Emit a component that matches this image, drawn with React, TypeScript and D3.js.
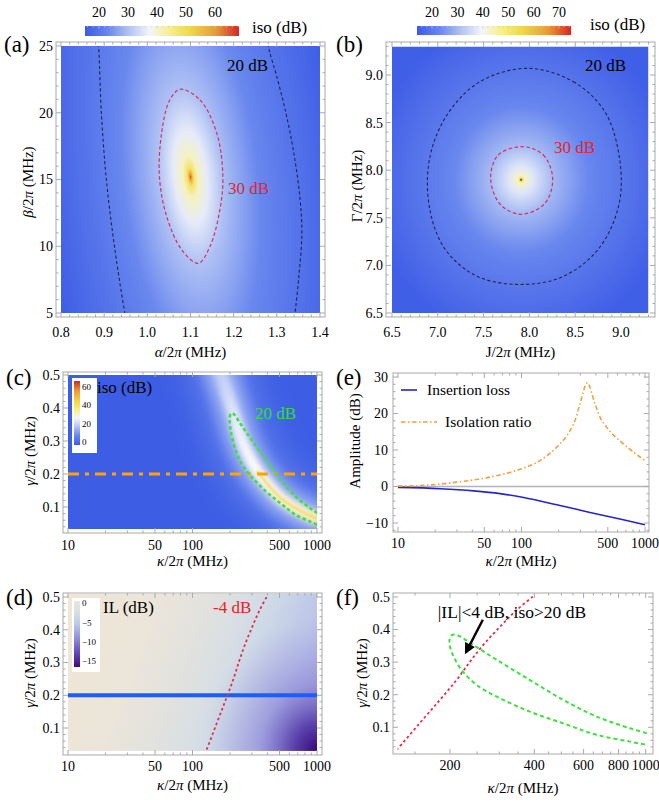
import React from 'react';
import * as d3 from 'd3';

// ---------- (a) isolation vs alpha / beta ----------
const alphaTicks = [0.8, 0.9, 1.0, 1.1, 1.2, 1.3, 1.4];
const betaTicks = [5, 10, 15, 20, 25];
const peakA = [1.1, 15.2]; // [alpha, beta]
const iso30A = [
  [1.076, 21.76], [1.122, 20.96], [1.161, 18.46], [1.175, 15.21], [1.168, 12.72], [1.145, 9.97],
  [1.118, 8.72], [1.08, 9.72], [1.045, 12.21], [1.028, 15.21], [1.033, 18.46], [1.052, 20.96],
];
const iso20ALeft = [[0.886, 25.6], [0.888, 24.45], [0.894, 19.7], [0.906, 14.7], [0.925, 9.72], [0.948, 5.0], [0.951, 4.6]];
const iso20ARight = [[1.277, 25.6], [1.283, 24.6], [1.3, 22.7], [1.323, 19.7], [1.342, 16.46], [1.354, 13.46], [1.358, 10.97], [1.351, 7.72], [1.342, 5.0], [1.34, 4.6]];
const isoBarTicksA = [20, 30, 40, 50, 60];
const isoRangeA = [15.2, 68.3];

// ---------- (b) isolation vs J / Gamma ----------
const jTicks = [6.5, 7.0, 7.5, 8.0, 8.5, 9.0];
const peakB = [7.91, 7.9];
const iso30B = [[7.927, 8.247], [8.152, 8.16], [8.254, 7.915], [8.17, 7.652], [7.905, 7.537], [7.679, 7.645], [7.577, 7.915], [7.66, 8.16]];
const iso20B = [
  [7.98, 9.07], [8.48, 8.93], [8.82, 8.62], [8.98, 8.15], [8.98, 7.65], [8.76, 7.18], [8.36, 6.88],
  [7.88, 6.8], [7.42, 6.89], [7.08, 7.17], [6.91, 7.6], [6.91, 8.12], [7.1, 8.58], [7.46, 8.93],
];
const isoBarTicksB = [20, 30, 40, 50, 60, 70];
const isoRangeB = [14.1, 74.7];

// ---------- (c) (d) (f) kappa / gamma plane ----------
const kappaMajor = [10, 50, 100, 500, 1000];
const kappaMinor = [20, 30, 40, 60, 70, 80, 90, 200, 300, 400, 600, 700, 800, 900];
const gammaTicks = [0.1, 0.2, 0.3, 0.4, 0.5];
const gammaWork = 0.2;
// ridge of maximal isolation, [kappa, gamma]
const ridgeC = [[150, 0.56], [170, 0.5], [207, 0.4], [235, 0.33], [270, 0.27], [330, 0.21], [420, 0.16], [520, 0.125], [650, 0.1], [930, 0.07], [1150, 0.06]];
// 20 dB isolation contour, [kappa, gamma]
const iso20Loop = [
  [1008, 0.082], [879, 0.097], [668, 0.133], [508, 0.184], [386, 0.245], [294, 0.307], [242, 0.353], [212, 0.383],
  [203, 0.383], [199, 0.365], [203, 0.33], [220, 0.276], [249, 0.23], [294, 0.194], [386, 0.148], [508, 0.112],
  [668, 0.077], [879, 0.056], [1008, 0.046],
];
// -4 dB insertion-loss contour, [kappa, gamma]
const il4Line = [[125, 0.02], [129, 0.031], [156, 0.113], [184, 0.184], [211, 0.245], [236, 0.302], [263, 0.353], [302, 0.409], [346, 0.46], [402, 0.506]];
const isoBarTicksC = [0, 20, 40, 60];
const ilBarTicksD = [0, -5, -10, -15];

// ---------- (e) cut at gamma = 0.2 ----------
const ampTicks = [-10, 0, 10, 20, 30];
const ilKappa = [10, 22, 41, 67, 104, 193, 359, 667, 1000];
const ilDb = [-0.25, -0.6, -1.2, -1.95, -3.0, -5.0, -7.1, -9.1, -10.5];
const isoKappa = [10, 16, 30, 56, 91, 141, 193, 247, 271, 298, 341, 393, 432, 490, 667, 1000];
const isoDb = [0.1, 0.3, 1.2, 2.6, 4.4, 7.1, 10.8, 15.3, 18.1, 22.7, 28.4, 22.7, 19.0, 16.2, 11.7, 7.1];

// ---------- (f) ----------
const kappaFMajor = [200, 400, 600, 800, 1000];
const kappaFMinor = [150, 250, 300, 350, 450, 500, 550, 650, 700, 750, 850, 900, 950];

const FONT = 'Liberation Serif';
const FRAME = '#a9a9a9';

const isoStops: [number, string][] = [
  [0, '#3b5be6'], [0.15, '#6a88ee'], [0.3, '#b9c9f5'], [0.42, '#f4f5fa'],
  [0.55, '#f6ef8a'], [0.68, '#f2d84a'], [0.85, '#e89a3c'], [1, '#d2281f'],
];
const isoColor = d3.scaleLinear<string>().domain(isoStops.map(s => s[0])).range(isoStops.map(s => s[1])).clamp(true);
const ilStops: [number, string][] = [
  [0, '#3c0c7a'], [0.25, '#6a52c0'], [0.42, '#8f8ad8'], [0.65, '#bccae5'], [0.82, '#d6dee6'], [1, '#ece6d8'],
];

// scales
const xA = d3.scaleLinear().domain([0.8, 1.4]).range([61, 320]);
const yA = d3.scaleLinear().domain([5, 25]).range([313, 46]);
const xB = d3.scaleLinear().domain([6.5, 9.0]).range([392, 621]);
const yB = d3.scaleLinear().domain([6.5, 9.0]).range([313, 75]);
const xC = d3.scaleLog().domain([10, 1000]).range([68, 317]);
const yC = d3.scaleLinear().domain([0.1, 0.5]).range([507, 375]);
const yD = d3.scaleLinear().domain([0.1, 0.5]).range([728, 597]);
const xE = d3.scaleLog().domain([10, 1000]).range([398, 645]);
const yE = d3.scaleLinear().domain([-10, 30]).range([523, 377]);
const xF = d3.scaleLog().domain([200, 1000]).range([450, 645.7]);
const yF = d3.scaleLinear().domain([0.1, 0.5]).range([727.3, 597]);

type Box = { x0: number; x1: number; y0: number; y1: number };

function Frame(p: {
  box: Box; x: any; y: any; xMajor: number[]; xMinor: number[]; yMajor: number[]; yMinor: number[];
  xFmt: (v: number) => string; yFmt: (v: number) => string; xLabY: number; yLabOff?: number;
}) {
  const { box, x, y } = p;
  const els: any[] = [];
  const tick = (k: string, v: number, len: number, axis: 'x' | 'y') => {
    if (axis === 'x') {
      const px = x(v);
      els.push(<line key={k + 'b'} x1={px} x2={px} y1={box.y1} y2={box.y1 - len} stroke={FRAME} />);
      els.push(<line key={k + 't'} x1={px} x2={px} y1={box.y0} y2={box.y0 + len} stroke={FRAME} />);
    } else {
      const py = y(v);
      els.push(<line key={k + 'l'} x1={box.x0} x2={box.x0 + len} y1={py} y2={py} stroke={FRAME} />);
      els.push(<line key={k + 'r'} x1={box.x1} x2={box.x1 - len} y1={py} y2={py} stroke={FRAME} />);
    }
  };
  p.xMajor.forEach(v => tick('xM' + v, v, 5, 'x'));
  p.xMinor.forEach(v => tick('xm' + v, v, 2.5, 'x'));
  p.yMajor.forEach(v => tick('yM' + v, v, 5, 'y'));
  p.yMinor.forEach(v => tick('ym' + v, v, 2.5, 'y'));
  return (
    <g>
      <rect x={box.x0} y={box.y0} width={box.x1 - box.x0} height={box.y1 - box.y0} fill="none" stroke={FRAME} strokeWidth={1} />
      {els}
      {p.xMajor.map(v => (
        <text key={'xl' + v} x={x(v)} y={p.xLabY} textAnchor="middle" fontSize={14}>{p.xFmt(v)}</text>
      ))}
      {p.yMajor.map(v => (
        <text key={'yl' + v} x={box.x0 - (p.yLabOff ?? 3)} y={y(v)} dy="0.35em" textAnchor="end" fontSize={14}>{p.yFmt(v)}</text>
      ))}
    </g>
  );
}

function YTitle({ x, y, children }: { x: number; y: number; children: any }) {
  return (
    <text transform={`translate(${x},${y}) rotate(-90)`} dy="0.35em" textAnchor="middle" fontSize={15}>{children}</text>
  );
}

const it = (s: string) => <tspan fontStyle="italic">{s}</tspan>;

function TopBar({ id, x0, x1, y0, y1, range, ticks, labY }: any) {
  const s = d3.scaleLinear().domain(range).range([x0, x1]);
  const minor = d3.range(Math.ceil(range[0] / 2) * 2, range[1], 2);
  return (
    <g>
      <defs>
        <linearGradient id={id} x1="0" y1="0" x2="1" y2="0">
          {isoStops.map(([o, c]) => <stop key={o} offset={o} stopColor={c} />)}
        </linearGradient>
      </defs>
      <rect x={x0} y={y0} width={x1 - x0} height={y1 - y0} fill={`url(#${id})`} />
      {minor.map(v => <line key={v} x1={s(v)} x2={s(v)} y1={y0} y2={y0 + (v % 10 === 0 ? 2.5 : 1.3)} stroke="#c8c8c8" strokeWidth={0.8} />)}
      {ticks.map((v: number) => <text key={v} x={s(v)} y={labY} textAnchor="middle" fontSize={14}>{v}</text>)}
    </g>
  );
}

export default function App() {
  const lineOf = (x: any, y: any, curve: any = d3.curveCatmullRom) =>
    d3.line<number[]>().x(d => x(d[0])).y(d => y(d[1])).curve(curve);

  const boxA: Box = { x0: 56, x1: 325, y0: 42, y1: 317 };
  const boxB: Box = { x0: 386, x1: 655, y0: 42, y1: 317 };
  const boxC: Box = { x0: 63, x1: 322, y0: 372, y1: 533 };
  const boxD: Box = { x0: 63, x1: 322, y0: 593, y1: 755 };
  const boxE: Box = { x0: 393, x1: 649, y0: 373, y1: 532 };
  const boxF: Box = { x0: 393, x1: 653, y0: 593, y1: 754 };

  // field gradients: [radius fraction, iso dB]
  const profileA = [[0, 66], [0.008, 58], [0.022, 48], [0.05, 41], [0.11, 36], [0.21, 30], [0.45, 23], [0.66, 20], [1, 15.5]];
  const profileB = [[0, 74], [0.01, 52], [0.025, 43], [0.08, 37], [0.21, 30], [0.45, 23], [0.65, 20], [1, 15]];
  const tA = (v: number) => (v - isoRangeA[0]) / (isoRangeA[1] - isoRangeA[0]);
  const tB = (v: number) => (v - isoRangeB[0]) / (isoRangeB[1] - isoRangeB[0]);
  const pA = [xA(peakA[0]), yA(peakA[1])];
  const pB = [xB(peakB[0]), yB(peakB[1])];

  const minorRange = (a: number, b: number, st: number, major: number[]) =>
    d3.range(a, b + st / 2, st).map(v => +v.toFixed(3)).filter(v => !major.some(m => Math.abs(m - v) < 1e-6));

  const gammaMinor = minorRange(0.04, 0.5, 0.02, gammaTicks);
  const fmt1 = d3.format('.1f');
  const fmtI = (v: number) => String(v);

  const ridgeLine = lineOf(xC, yC)(ridgeC) as string;
  const ridgeCoreLine = lineOf(xC, yC)(ridgeC.filter(d => d[0] >= 330)) as string;

  return (
    <div style={{ position: 'absolute', left: 0, top: 0, fontFamily: FONT }}>
      <svg width={659} height={802} style={{ fontFamily: FONT }}>
        <rect width={659} height={802} fill="#ffffff" />
        <defs>
          <clipPath id="clipA"><rect x={xA(0.8)} y={yA(25)} width={xA(1.4) - xA(0.8)} height={yA(5) - yA(25)} /></clipPath>
          <clipPath id="clipB"><rect x={xB(6.5)} y={yB(9.3)} width={xB(9.3) - xB(6.5)} height={yB(6.5) - yB(9.3)} /></clipPath>
          <clipPath id="clipC"><rect x={xC(10)} y={yC(0.5)} width={xC(1000) - xC(10)} height={yC(0.033) - yC(0.5)} /></clipPath>
          <clipPath id="clipD"><rect x={xC(10)} y={yD(0.51)} width={xC(1000) - xC(10)} height={yD(0.03) - yD(0.51)} /></clipPath>
          <clipPath id="clipE"><rect x={boxE.x0} y={boxE.y0} width={boxE.x1 - boxE.x0} height={boxE.y1 - boxE.y0} /></clipPath>
          <clipPath id="clipF"><rect x={xF(130)} y={yF(0.51)} width={xF(1030) - xF(130)} height={yF(0.03) - yF(0.51)} /></clipPath>
          <radialGradient id="fieldA" gradientUnits="userSpaceOnUse" cx={0} cy={0} r={150}
            gradientTransform={`translate(${pA[0]} ${pA[1]}) rotate(-6) scale(1 2.8)`}>
            {profileA.map(([o, v]) => <stop key={o} offset={o} stopColor={isoColor(tA(v))} />)}
          </radialGradient>
          <radialGradient id="fieldB" gradientUnits="userSpaceOnUse" cx={0} cy={0} r={150}
            gradientTransform={`translate(${pB[0]} ${pB[1]}) scale(1 1.08)`}>
            {profileB.map(([o, v]) => <stop key={o} offset={o} stopColor={isoColor(tB(v))} />)}
          </radialGradient>
          <linearGradient id="ridgeGrad" gradientUnits="userSpaceOnUse" x1={xC(170)} y1={yC(0.5)} x2={xC(1000)} y2={yC(0.065)}>
            <stop offset="0" stopColor="#c2cff6" />
            <stop offset="0.3" stopColor="#eaeffc" />
            <stop offset="0.55" stopColor="#fbfbf6" />
            <stop offset="0.8" stopColor="#fcf7dc" />
            <stop offset="1" stopColor="#faf0c0" />
          </linearGradient>
          <filter id="blur12" filterUnits="userSpaceOnUse" x={0} y={0} width={659} height={802}><feGaussianBlur stdDeviation={12} /></filter>
          <filter id="blur7" filterUnits="userSpaceOnUse" x={0} y={0} width={659} height={802}><feGaussianBlur stdDeviation={7} /></filter>
          <filter id="blur3" filterUnits="userSpaceOnUse" x={0} y={0} width={659} height={802}><feGaussianBlur stdDeviation={3} /></filter>
          <filter id="blur1" filterUnits="userSpaceOnUse" x={0} y={0} width={659} height={802}><feGaussianBlur stdDeviation={0.8} /></filter>
          <linearGradient id="ilLin" gradientUnits="userSpaceOnUse" x1={xC(10)} y1={yD(0.5)} x2={xC(10) + 0.935 * 288} y2={yD(0.5) + 0.359 * 288}>
            <stop offset="0" stopColor="#efe6d5" />
            <stop offset="0.3" stopColor="#ebe5da" />
            <stop offset="0.5" stopColor="#dfe1e0" />
            <stop offset="0.65" stopColor="#d0dbe7" />
            <stop offset="0.82" stopColor="#bcc6e8" />
            <stop offset="1" stopColor="#a6a6e2" />
          </linearGradient>
          <radialGradient id="ilRad" gradientUnits="userSpaceOnUse" cx={0} cy={0} r={115}
            gradientTransform={`translate(${xC(1000)} ${yD(0.03)}) scale(1 1.15)`}>
            <stop offset="0" stopColor="#360a76" stopOpacity={1} />
            <stop offset="0.2" stopColor="#5236a6" stopOpacity={0.92} />
            <stop offset="0.5" stopColor="#7e74d2" stopOpacity={0.5} />
            <stop offset="1" stopColor="#a09ce0" stopOpacity={0} />
          </radialGradient>
          <linearGradient id="barC" x1="0" y1="1" x2="0" y2="0">
            {isoStops.map(([o, c]) => <stop key={o} offset={o} stopColor={c} />)}
          </linearGradient>
          <linearGradient id="barD" x1="0" y1="1" x2="0" y2="0">
            {ilStops.map(([o, c]) => <stop key={o} offset={o} stopColor={c} />)}
          </linearGradient>
          <marker id="arrowF" viewBox="0 0 10 10" refX={8} refY={5} markerWidth={5.2} markerHeight={4.6} orient="auto">
            <path d="M0,0 L10,5 L0,10 z" fill="#000" />
          </marker>
        </defs>

        {/* ================= (a) ================= */}
        <TopBar id="barA" x0={85} x1={239} y0={26} y1={36} range={isoRangeA} ticks={isoBarTicksA} labY={17} />
        <text x={252} y={33} fontSize={17}>iso (dB)</text>
        <text x={4} y={52} fontSize={23}>(a)</text>
        <g clipPath="url(#clipA)">
          <rect x={xA(0.8)} y={yA(25)} width={xA(1.4) - xA(0.8)} height={yA(5) - yA(25)} fill="url(#fieldA)" />
          <path d={lineOf(xA, yA)(iso20ALeft) as string} fill="none" stroke="#1d2453" strokeWidth={1.1} strokeDasharray="3.2 2.4" />
          <path d={lineOf(xA, yA)(iso20ARight) as string} fill="none" stroke="#1d2453" strokeWidth={1.1} strokeDasharray="3.2 2.4" />
          <path d={lineOf(xA, yA, d3.curveCatmullRomClosed)(iso30A) as string} fill="none" stroke="#d4305c" strokeWidth={1.2} strokeDasharray="3.6 2.4" />
        </g>
        <text x={227} y={71} fontSize={17}>20 dB</text>
        <text x={228} y={194} fontSize={17} fill="#e5222a">30 dB</text>
        <Frame box={boxA} x={xA} y={yA} xMajor={alphaTicks} xMinor={minorRange(0.8, 1.4, 0.02, alphaTicks)}
          yMajor={betaTicks} yMinor={minorRange(5, 25, 1, betaTicks)} xFmt={fmt1} yFmt={fmtI} xLabY={337} />
        <text x={(boxA.x0 + boxA.x1) / 2} y={357} textAnchor="middle" fontSize={15}>{it('α')}/2{it('π')} (MHz)</text>
        <YTitle x={28} y={182}>{it('β')}/2{it('π')} (MHz)</YTitle>

        {/* ================= (b) ================= */}
        <TopBar id="barB" x0={417} x1={571} y0={26} y1={35} range={isoRangeB} ticks={isoBarTicksB} labY={17} />
        <text x={590} y={30} fontSize={17}>iso (dB)</text>
        <text x={336} y={52} fontSize={23}>(b)</text>
        <g clipPath="url(#clipB)">
          <rect x={xB(6.5)} y={yB(9.3)} width={xB(9.3) - xB(6.5)} height={yB(6.5) - yB(9.3)} fill="url(#fieldB)" />
          <path d={lineOf(xB, yB, d3.curveCatmullRomClosed)(iso20B) as string} fill="none" stroke="#1d2453" strokeWidth={1.1} strokeDasharray="3.2 2.4" />
          <path d={lineOf(xB, yB, d3.curveCatmullRomClosed)(iso30B) as string} fill="none" stroke="#d4305c" strokeWidth={1.2} strokeDasharray="3.6 2.4" />
          <circle cx={pB[0]} cy={pB[1]} r={1} fill="#8a4a20" />
        </g>
        <text x={585} y={71} fontSize={17}>20 dB</text>
        <text x={554} y={153} fontSize={17} fill="#e5222a">30 dB</text>
        <Frame box={boxB} x={xB} y={yB} xMajor={jTicks} xMinor={minorRange(6.6, 9.3, 0.1, jTicks)}
          yMajor={jTicks} yMinor={minorRange(6.6, 9.3, 0.1, jTicks)} xFmt={fmt1} yFmt={fmt1} xLabY={337} />
        <text x={(boxB.x0 + boxB.x1) / 2} y={357} textAnchor="middle" fontSize={15}>J/2{it('π')} (MHz)</text>
        <YTitle x={357} y={186}>Γ/2{it('π')} (MHz)</YTitle>

        {/* ================= (c) ================= */}
        <text x={6} y={385} fontSize={23}>(c)</text>
        <g clipPath="url(#clipC)">
          <rect x={xC(10)} y={yC(0.5)} width={xC(1000) - xC(10)} height={yC(0.033) - yC(0.5)} fill="#3d5ee4" />
          <path d={ridgeLine} fill="none" stroke="#5f7fec" strokeWidth={74} strokeOpacity={0.6} filter="url(#blur12)" />
          <path d={ridgeLine} fill="none" stroke="#a4b8f4" strokeWidth={34} strokeOpacity={0.85} filter="url(#blur7)" />
          <path d={ridgeLine} fill="none" stroke="url(#ridgeGrad)" strokeWidth={13} filter="url(#blur3)" />
          <path d={ridgeCoreLine} fill="none" stroke="#f3d64e" strokeWidth={2.4} strokeOpacity={0.9} filter="url(#blur1)" />
          <line x1={xC(10)} x2={xC(1000)} y1={yC(gammaWork)} y2={yC(gammaWork)} stroke="#ffa308" strokeWidth={3.2} strokeDasharray="11 6 4 6" />
          <path d={lineOf(xC, yC)(iso20Loop) as string} fill="none" stroke="#3fe03f" strokeWidth={2.6} strokeDasharray="3.5 2.6" />
        </g>
        <rect x={72} y={378} width={25} height={75} fill="#ffffff" />
        <rect x={74} y={381} width={6} height={64} fill="url(#barC)" />
        {isoBarTicksC.map(v => {
          const s = d3.scaleLinear().domain([-3.3, 66.5]).range([445, 381]);
          return <text key={v} x={82} y={s(v)} dy="0.35em" fontSize={9}>{v}</text>;
        })}
        <text x={97} y={393} fontSize={17}>iso (dB)</text>
        <text x={255} y={419} fontSize={17} fill="#2fe02f">20 dB</text>
        <Frame box={boxC} x={xC} y={yC} xMajor={kappaMajor} xMinor={kappaMinor}
          yMajor={gammaTicks} yMinor={gammaMinor} xFmt={fmtI} yFmt={fmt1} xLabY={550} />
        <text x={(boxC.x0 + boxC.x1) / 2} y={566} textAnchor="middle" fontSize={15}>{it('κ')}/2{it('π')} (MHz)</text>
        <YTitle x={30} y={451}>{it('γ')}/2{it('π')} (MHz)</YTitle>

        {/* ================= (d) ================= */}
        <text x={6} y={605} fontSize={23}>(d)</text>
        <g clipPath="url(#clipD)">
          <rect x={xC(10)} y={yD(0.51)} width={xC(1000) - xC(10)} height={yD(0.03) - yD(0.51)} fill="url(#ilLin)" />
          <rect x={xC(10)} y={yD(0.51)} width={xC(1000) - xC(10)} height={yD(0.03) - yD(0.51)} fill="url(#ilRad)" />
          <line x1={xC(10)} x2={xC(1000)} y1={yD(gammaWork)} y2={yD(gammaWork)} stroke="#1f5cff" strokeWidth={4} />
          <path d={lineOf(xC, yD)(il4Line) as string} fill="none" stroke="#e03048" strokeWidth={1.8} strokeDasharray="2.6 2.6" />
        </g>
        <rect x={72} y={598} width={28} height={74} fill="#ffffff" />
        <rect x={74} y={601} width={6} height={66} fill="url(#barD)" />
        {ilBarTicksD.map(v => {
          const s = d3.scaleLinear().domain([-16.5, 0.5]).range([667, 601]);
          return <text key={v} x={82} y={s(v)} dy="0.35em" fontSize={9}>{d3.format('')(v)}</text>;
        })}
        <text x={103} y={613} fontSize={17}>IL (dB)</text>
        <text x={213} y={613} fontSize={17} fill="#e82222">-4 dB</text>
        <Frame box={boxD} x={xC} y={yD} xMajor={kappaMajor} xMinor={kappaMinor}
          yMajor={gammaTicks} yMinor={gammaMinor} xFmt={fmtI} yFmt={fmt1} xLabY={771} />
        <text x={(boxD.x0 + boxD.x1) / 2} y={790} textAnchor="middle" fontSize={15}>{it('κ')}/2{it('π')} (MHz)</text>
        <YTitle x={30} y={673}>{it('γ')}/2{it('π')} (MHz)</YTitle>

        {/* ================= (e) ================= */}
        <text x={336} y={385} fontSize={23}>(e)</text>
        <g clipPath="url(#clipE)">
          <line x1={xE(10)} x2={boxE.x1} y1={yE(0)} y2={yE(0)} stroke="#b4b4b4" strokeWidth={1.6} />
          <path d={lineOf(xE, yE, d3.curveMonotoneX)(ilKappa.map((k, i) => [k, ilDb[i]])) as string}
            fill="none" stroke="#2424d0" strokeWidth={1.6} />
          <path d={lineOf(xE, yE, d3.curveMonotoneX)(isoKappa.map((k, i) => [k, isoDb[i]])) as string}
            fill="none" stroke="#f2a040" strokeWidth={1.6} strokeDasharray="4.5 2.5 1.5 2.5" />
        </g>
        <line x1={401} x2={417} y1={390} y2={390} stroke="#2424d0" strokeWidth={1.6} />
        <text x={427} y={395} fontSize={15.5}>Insertion loss</text>
        <line x1={401} x2={437} y1={422} y2={422} stroke="#f2a040" strokeWidth={1.6} strokeDasharray="4.5 2.5 1.5 2.5" />
        <text x={445} y={427} fontSize={15.5}>Isolation ratio</text>
        <Frame box={boxE} x={xE} y={yE} xMajor={kappaMajor} xMinor={kappaMinor}
          yMajor={ampTicks} yMinor={minorRange(-12, 30, 2, ampTicks)} xFmt={fmtI} yFmt={d3.format('')} xLabY={548} yLabOff={5} />
        <text x={(boxE.x0 + boxE.x1) / 2} y={566} textAnchor="middle" fontSize={15}>{it('κ')}/2{it('π')} (MHz)</text>
        <YTitle x={355} y={441}>Amplitude (dB)</YTitle>

        {/* ================= (f) ================= */}
        <text x={336} y={605} fontSize={23}>(f)</text>
        <g clipPath="url(#clipF)">
          <path d={lineOf(xF, yF)(il4Line) as string} fill="none" stroke="#e03048" strokeWidth={1.8} strokeDasharray="2.6 2.6" />
          <path d={lineOf(xF, yF)(iso20Loop) as string} fill="none" stroke="#3fe03f" strokeWidth={2} strokeDasharray="4 3" />
        </g>
        <text x={512} y={618} textAnchor="middle" fontSize={17.5}>|IL|&lt;4 dB, iso&gt;20 dB</text>
        <line x1={xF(262)} y1={yF(0.43)} x2={xF(228)} y2={yF(0.33)} stroke="#000" strokeWidth={2.4} markerEnd="url(#arrowF)" />
        <Frame box={boxF} x={xF} y={yF} xMajor={kappaFMajor} xMinor={kappaFMinor}
          yMajor={gammaTicks} yMinor={gammaMinor} xFmt={fmtI} yFmt={fmt1} xLabY={770} />
        <text x={(boxF.x0 + boxF.x1) / 2} y={793} textAnchor="middle" fontSize={15}>{it('κ')}/2{it('π')} (MHz)</text>
        <YTitle x={362} y={673}>{it('γ')}/2{it('π')} (MHz)</YTitle>
      </svg>
    </div>
  );
}
